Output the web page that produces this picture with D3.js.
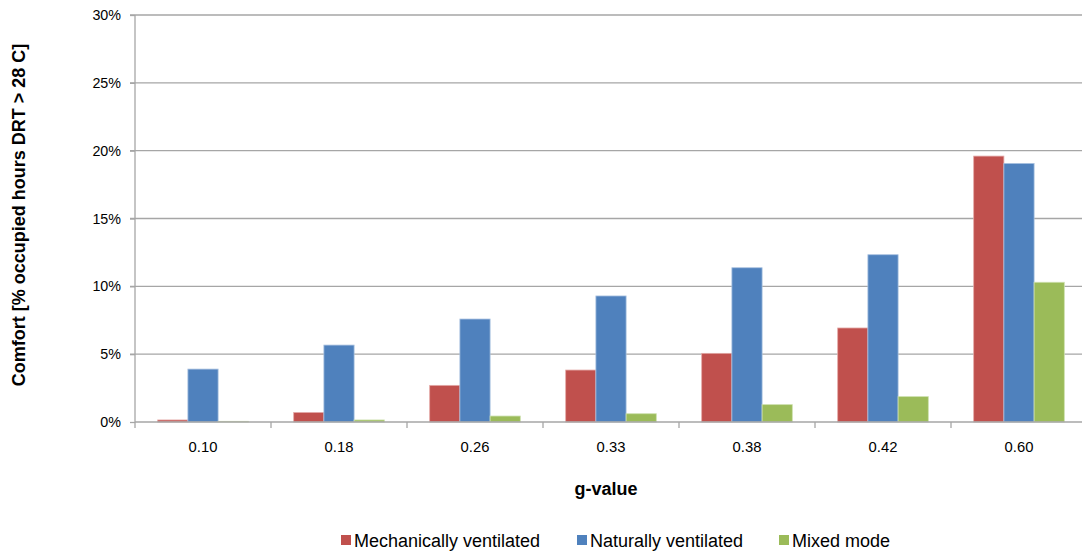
<!DOCTYPE html>
<html>
<head>
<meta charset="utf-8">
<script src="https://cdn.jsdelivr.net/npm/d3@7"></script>
<style>
  body { margin: 0; background: #fff; }
  svg { display: block; font-family: "Liberation Sans", Arial, sans-serif; }
</style>
</head>
<body>
<svg width="1082" height="554"></svg>
<script>
const categories = ["0.10", "0.18", "0.26", "0.33", "0.38", "0.42", "0.60"];
const seriesNames = ["Mechanically ventilated", "Naturally ventilated", "Mixed mode"];
const mechanical = [0.15, 0.7, 2.7, 3.83, 5.06, 6.93, 19.6];
const natural = [3.9, 5.67, 7.59, 9.29, 11.37, 12.33, 19.06];
const mixed = [0.05, 0.15, 0.44, 0.61, 1.28, 1.87, 10.3];
const yTicks = [0, 5, 10, 15, 20, 25, 30];
const colors = ["#C0504D", "#4F81BD", "#9BBB59"];
const strokes = ["#e3a9a7", "#a9c1e0", "#cde0ae"];

const seriesValues = [mechanical, natural, mixed];
const rows = categories.map((c, i) => ({
  cat: c,
  vals: seriesValues.map((s, k) => ({ key: k, v: s[i] }))
}));

const svg = d3.select("svg");
const plotLeft = 135, plotRight = 1087, plotTop = 15, plotBottom = 422;

const x = d3.scaleBand().domain(categories).range([plotLeft, plotRight]).padding(0);
const xInner = d3.scaleBand().domain([0, 1, 2])
  .range([0, x.bandwidth()]).paddingOuter(0.5 * 45.5 / 30.3).paddingInner(0);
const y = d3.scaleLinear().domain([0, 30]).range([plotBottom, plotTop]);

// gridlines
svg.append("g")
  .selectAll("line")
  .data(yTicks.slice(1))
  .enter().append("line")
  .attr("x1", plotLeft - 5).attr("x2", 1082)
  .attr("y1", d => y(d)).attr("y2", d => y(d))
  .attr("stroke", "#a6a6a6").attr("stroke-width", 1.3);

// y axis
const yAxis = svg.append("g")
  .attr("transform", `translate(${plotLeft},0)`)
  .call(d3.axisLeft(y).tickValues(yTicks).tickFormat(d => d + "%").tickSize(5).tickPadding(9));
yAxis.selectAll("line, path").attr("stroke", "#a6a6a6").attr("stroke-width", 1.3);
yAxis.select(".domain").attr("d", `M0,${plotTop}V${plotBottom}`);
yAxis.selectAll("text").attr("font-size", 14.3).attr("fill", "#000")
  .attr("font-family", "Liberation Sans, Arial, sans-serif");

// bars
svg.append("g")
  .selectAll("g")
  .data(rows)
  .enter().append("g")
  .attr("transform", d => `translate(${x(d.cat)},0)`)
  .selectAll("rect")
  .data(d => d.vals)
  .enter().append("rect")
  .attr("x", d => xInner(d.key))
  .attr("width", xInner.bandwidth())
  .attr("y", d => y(d.v))
  .attr("height", d => y(0) - y(d.v))
  .attr("fill", d => colors[d.key])
  .attr("stroke", d => strokes[d.key])
  .attr("stroke-width", 0.8);

// x axis
const xAxis = svg.append("g")
  .attr("transform", `translate(0,${plotBottom})`)
  .call(d3.axisBottom(x).tickSize(0).tickPadding(19));
xAxis.select(".domain").remove();
xAxis.append("line").attr("x1", plotLeft).attr("x2", 1082)
  .attr("stroke", "#a6a6a6").attr("stroke-width", 1.3);
xAxis.selectAll(".sep")
  .data(categories.map((c) => x(c)))
  .enter().append("line")
  .attr("x1", d => d).attr("x2", d => d)
  .attr("y1", 0).attr("y2", 6)
  .attr("stroke", "#a6a6a6").attr("stroke-width", 1.3);
xAxis.selectAll("text").attr("font-size", 14.8).attr("fill", "#000")
  .attr("font-family", "Liberation Sans, Arial, sans-serif");

// axis titles
svg.append("text")
  .attr("x", 606).attr("y", 495)
  .attr("text-anchor", "middle")
  .attr("font-size", 18).attr("font-weight", "bold")
  .text("g-value");

svg.append("text")
  .attr("transform", "translate(25,215) rotate(-90)")
  .attr("text-anchor", "middle")
  .attr("font-size", 18).attr("font-weight", "bold")
  .text("Comfort [% occupied hours DRT > 28 C]");

// legend
const legendX = [341, 577, 779];
const legend = svg.append("g")
  .selectAll("g")
  .data(seriesNames)
  .enter().append("g")
  .attr("transform", (d, i) => `translate(${legendX[i]},540)`);
legend.append("rect")
  .attr("x", 0).attr("y", -5).attr("width", 10).attr("height", 10)
  .attr("fill", (d, i) => colors[i]);
legend.append("text")
  .attr("x", 13).attr("y", 6.5)
  .attr("font-size", 18)
  .text(d => d);
</script>
</body>
</html>
